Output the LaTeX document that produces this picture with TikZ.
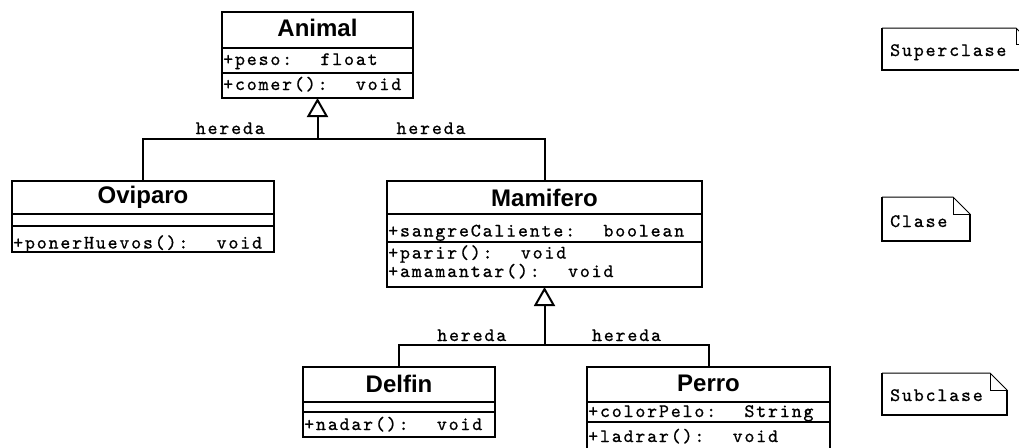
\documentclass[tikz,border=0pt]{standalone}
\usepackage{fontspec}
\usetikzlibrary{arrows.meta,calc}
% wide-set typewriter face for attributes, operations and labels
\newfontfamily\umlmono{lmmono10-regular}[Extension=.otf, LetterSpace=9.6, WordSpace=1.2, FakeBold=0.8]
\newfontfamily\umlsans{Liberation Sans}

\tikzset{
  member/.style={font=\umlmono\fontsize{19}{22}\selectfont, anchor=base west, inner sep=0pt},
  title/.style={font=\umlsans\bfseries\fontsize{24}{28}\selectfont, anchor=base, inner sep=0pt},
  relname/.style={font=\umlmono\fontsize{19}{22}\selectfont, anchor=base, inner sep=0pt},
  classbox/.style={draw, line width=2pt, rectangle, anchor=north west, inner sep=0pt, outer sep=0pt},
  divider/.style={line width=2pt},
  branch/.style={line width=2pt},
  inherit/.style={line width=2pt, -{Triangle[open, length=19pt, width=21pt]}},
  notethin/.style={line width=1pt},
  notethick/.style={line width=1.8pt},
}

% UML note with a folded corner: name, x1, y1, x2, y2, fold, text
\newcommand\umlnote[7]{%
  \node[member] (#1) at (#2+8,#5-14) {#7};
  \draw[notethin] (#2,#3) -- (#4-#6,#3) -- (#4,#3+#6);
  \draw[notethin] (#4-#6,#3) -- (#4-#6,#3+#6) -- (#4,#3+#6);
  \draw[notethick] (#4,#3+#6) -- (#4,#5) -- (#2,#5) -- (#2,#3);
}

\begin{document}
\begin{tikzpicture}[x=1pt, y=-1pt]
\useasboundingbox (0,0) rectangle (1019,447);
\fill[white] (0,0) rectangle (1019,447);
\clip (0,0) rectangle (1019,447);

% ---- Animal ----
\node[classbox, minimum width=191pt, minimum height=86pt] (animal) at (222,12) {};
\draw[divider] (222,48) -- (413,48);
\draw[divider] (222,73) -- (413,73);
\node[title] (animalT) at (317.5,36) {Animal};
\node[member] (animalA) at (223,65) {+peso:~~float};
\node[member] (animalM) at (223,90) {+comer():~~void};

% ---- Oviparo ----
\node[classbox, minimum width=262pt, minimum height=71pt] (oviparo) at (12,181) {};
\draw[divider] (12,214) -- (274,214);
\draw[divider] (12,226) -- (274,226);
\node[title] (oviparoT) at (143,203) {Oviparo};
\node[member] (oviparoM) at (13,248.5) {+ponerHuevos():~~void};

% ---- Mamifero ----
\node[classbox, minimum width=315pt, minimum height=106pt] (mamifero) at (387,181) {};
\draw[divider] (387,214) -- (702,214);
\draw[divider] (387,242) -- (702,242);
\node[title] (mamiferoT) at (544.5,206) {Mamifero};
\node[member] (mamiferoA) at (388,236.5) {+sangreCaliente:~~boolean};
\node[member] (mamiferoM1) at (388,258.5) {+parir():~~void};
\node[member] (mamiferoM2) at (388,277) {+amamantar():~~void};

% ---- Delfin ----
\node[classbox, minimum width=192pt, minimum height=70pt] (delfin) at (303,367) {};
\draw[divider] (303,402) -- (495,402);
\draw[divider] (303,412) -- (495,412);
\node[title] (delfinT) at (399,392) {Delfin};
\node[member] (delfinM) at (304,430) {+nadar():~~void};

% ---- Perro ----
\node[classbox, minimum width=243pt, minimum height=100pt] (perro) at (587,367) {};
\draw[divider] (587,402) -- (830,402);
\draw[divider] (587,422) -- (830,422);
\node[title] (perroT) at (708.5,391) {Perro};
\node[member] (perroA) at (588,417) {+colorPelo:~~String};
\node[member] (perroM) at (588,442) {+ladrar():~~void};

% ---- generalisations ----
\coordinate (j1) at (animal.south |- 0,139);
\draw[inherit] (j1) -- (animal.south);
\draw[branch] (oviparo.north) |- (j1) -| (mamifero.north);
\path (oviparo.north |- j1) -- node[relname, yshift=5pt] (h1) {hereda} (j1);
\path (j1) -- node[relname, yshift=5pt] (h2) {hereda} (mamifero.north |- j1);

\coordinate (j2) at (mamifero.south |- 0,345);
\draw[inherit] (j2) -- (mamifero.south);
\draw[branch] (delfin.north) |- (j2) -| (perro.north);
\path (delfin.north |- j2) -- node[relname, yshift=4pt] (h3) {hereda} (j2);
\path (j2) -- node[relname, yshift=4pt] (h4) {hereda} (perro.north |- j2);

% ---- notes ----
\umlnote{superclase}{882}{28}{1032}{70}{16}{Superclase}
\umlnote{clase}{882}{197}{970}{241}{17}{Clase}
\umlnote{subclase}{882}{373}{1007}{415}{17}{Subclase}
\end{tikzpicture}
\end{document}
